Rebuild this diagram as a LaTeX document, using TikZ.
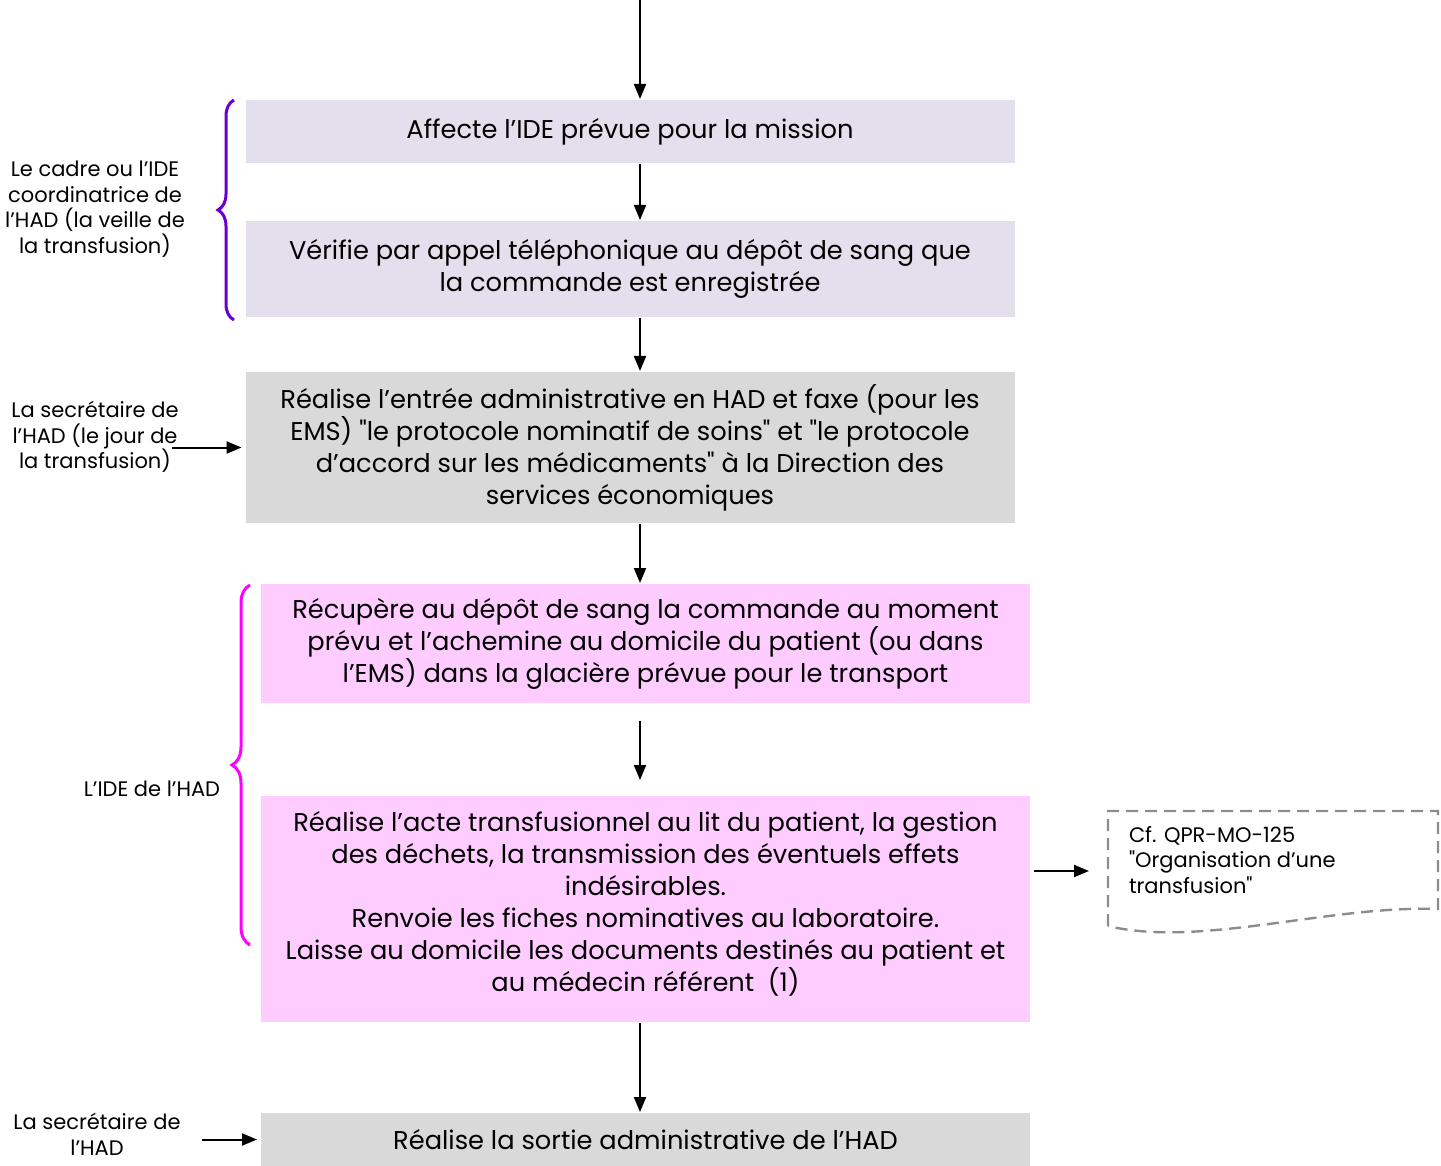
\documentclass[tikz,border=0pt]{standalone}
\usepackage{fontspec}
\setmainfont{Poppins}[Ligatures=TeXOff]
\usepackage{xcolor}
\usetikzlibrary{arrows.meta,positioning,calc,decorations.pathreplacing}
\definecolor{lavender}{HTML}{E4DFEC}
\definecolor{greybox}{HTML}{D9D9D9}
\definecolor{pinkbox}{HTML}{FFCCFF}
\definecolor{bracepurple}{HTML}{6A00D0}
\definecolor{bracepink}{HTML}{FF00FF}
\definecolor{docgrey}{HTML}{8C8C8C}

\begin{document}
\begin{tikzpicture}[x=0.5pt, y=-0.5pt, ->, >={Triangle[length=7.5pt,width=6pt]}, line width=1pt]
\tikzstyle{box}=[inner sep=0pt, minimum width=384.5pt, align=center, font=\fontsize{12.85}{16}\selectfont]
\tikzstyle{who}=[inner sep=0pt, align=center, font=\fontsize{10.5}{12.8}\selectfont]
\tikzstyle{brace}=[-, line width=1.5pt, decorate]
\useasboundingbox (0,0) rectangle (1441,1166);
\coordinate (T) at (640,0);
% the steps
\node[box, fill=lavender, minimum height=31.5pt] (A) at (630,131.5) {Affecte l’IDE prévue pour la mission};
\node[box, fill=lavender, minimum height=48pt]   (B) at (630,269)   {Vérifie par appel téléphonique au dépôt de sang que\\la commande est enregistrée};
\node[box, fill=greybox, minimum height=75.5pt]  (C) at (630,447.5) {Réalise l’entrée administrative en HAD et faxe (pour les\\EMS) "le protocole nominatif de soins" et "le protocole\\d’accord sur les médicaments" à la Direction des\\services économiques};
\node[box, fill=pinkbox, minimum height=59.5pt]  (D) at (645.5,643.5) {Récupère au dépôt de sang la commande au moment\\prévu et l’achemine au domicile du patient (ou dans\\l’EMS) dans la glacière prévue pour le transport};
\node[box, fill=pinkbox, minimum height=113pt, text depth=8pt] (E) at (645.5,909) {Réalise l’acte transfusionnel au lit du patient, la gestion\\des déchets, la transmission des éventuels effets\\indésirables.\\Renvoie les fiches nominatives au laboratoire.\\Laisse au domicile les documents destinés au patient et\\au médecin référent~~(1)};
\node[box, fill=greybox, minimum height=26.5pt]  (F) at (645.5,1139.5) {Réalise la sortie administrative de l’HAD};
% who does it
\node[who] (L1) at (95,209)   {Le cadre ou l’IDE\\coordinatrice de\\l’HAD (la veille de\\la transfusion)};
\node[who] (L2) at (95,437)   {La secrétaire de\\l’HAD (le jour de\\la transfusion)};
\node[who] (L3) at (152,789)  {L’IDE de l’HAD};
\node[who] (L4) at (97,1134)  {La secrétaire de\\l’HAD};
% reference document
\node[minimum width=165pt, minimum height=60pt] (G) at (1273,871) {};
\node[who, anchor=north west, align=left] (Gt) at (1128,825) {Cf. QPR-MO-125\\"Organisation d’une\\transfusion"};
\draw[-, docgrey, line width=1.2pt, dash pattern=on 6pt off 3.5pt]
  (1108,926) -- (1108,811) -- (1438,811) -- (1438,909)
  .. controls (1330,905) and (1200,948) .. (1108,926);
\path
(T) edge (T |- A.north)
(T |- A.south) edge (T |- B.north)
(T |- B.south) edge (T |- C.north)
(T |- C.south) edge (T |- D.north)
(T |- D.south) edge[shorten <=8.5pt, shorten >=7.5pt] (T |- E.north)
(T |- E.south) edge (T |- F.north)
([xshift=-4pt]L2.east |- C.west) edge[shorten >=1.5pt] (C.west)
(L4.east |- F.west) edge[shorten <=10pt, shorten >=1.5pt] (F.west)
(E.east |- G.west) edge[shorten <=1.5pt, shorten >=9pt] (G.west);
\draw[brace, bracepurple, decoration={brace, amplitude=8pt}] (234,320) -- (234,100);
\draw[brace, bracepink, decoration={brace, amplitude=9pt}] (250,945) -- (250,585);
\end{tikzpicture}
\end{document}
